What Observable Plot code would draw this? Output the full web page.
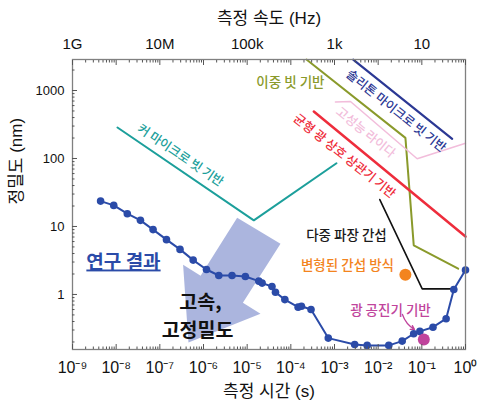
<!DOCTYPE html>
<html>
<head>
<meta charset="utf-8">
<script src="https://cdn.jsdelivr.net/npm/d3@7"></script>
<script src="https://cdn.jsdelivr.net/npm/@observablehq/plot@0.6"></script>
<style>
  html, body { margin: 0; padding: 0; background: #fff; }
  #chart svg { display: block; }
</style>
</head>
<body>
<div id="chart"></div>
<script>
// Measured precision of this work versus measurement time
const resultTime = [4.4e-9, 8.8e-9, 1.8e-8, 3.6e-8, 7.0e-8, 1.42e-7, 2.9e-7, 5.8e-7, 1.17e-6, 2.24e-6,
  4.5e-6, 9.1e-6, 1.85e-5, 2.2e-5, 3.7e-5, 4.45e-5, 7.3e-5, 1.47e-4, 1.75e-4, 2.9e-4,
  7.2e-4, 2.9e-3, 5.6e-3, 1.75e-2, 3.55e-2, 6.5e-2, 9.0e-2, 0.18, 0.36, 0.54, 1.0];
const resultPrecision = [23.6, 20.4, 15.4, 12.3, 9.0, 6.4, 4.6, 3.2, 2.33, 1.90,
  1.90, 1.84, 1.57, 1.47, 1.31, 1.08, 0.84, 0.65, 0.67, 0.60,
  0.228, 0.184, 0.178, 0.178, 0.206, 0.264, 0.286, 0.33, 0.44, 1.18, 2.29];

// Other ranging methods (boundaries)
const kerrTime = [1.07e-8, 1.42e-5, 1.11e-3];
const kerrPrecision = [286, 12.3, 85];
const dualCombTime = [2.28e-4, 0.0421, 0.0653, 0.679];
const dualCombPrecision = [2850, 201, 5.26, 2.39];
const solitonTime = [2.68e-3, 0.495];
const solitonPrecision = [2850, 195];
const lidarTime = [1.05e-3, 2.32e-3, 0.0782, 1.0];
const lidarPrecision = [680, 690, 99, 168];
const bocTime = [3.36e-4, 1.0];
const bocPrecision = [491, 7.1];
const multiWaveTime = [0.0109, 0.102, 0.538];
const multiWavePrecision = [24.9, 1.21, 1.21];
const modifiedInterfTime = [0.042];
const modifiedInterfPrecision = [1.95];
const cavityTime = [0.111];
const cavityPrecision = [0.218];

// Tick values and labels
const bottomTicks = [1e-9, 1e-8, 1e-7, 1e-6, 1e-5, 1e-4, 1e-3, 1e-2, 1e-1, 1];
const topTicks = [1e-9, 1e-7, 1e-5, 1e-3, 1e-1];
const topLabels = ["1G", "10M", "100k", "1k", "10"];
const leftTicks = [1, 10, 100, 1000];
const leftLabels = ["1", "10", "100", "1000"];

// Trend arrow outline (time, precision) pairs
const trendArrowTime = [5.9e-6, 5.8e-5, 7.98e-6, 2.02e-5, 4.53e-7, 3.41e-7, 8.6e-7];
const trendArrowPrecision = [13.4, 5.57, 0.757, 0.52, 0.197, 2.73, 1.88];

const zip = (xs, ys) => xs.map((x, i) => ({x, y: ys[i]}));
const labelFor = (ticks, labels) => d => {
  const i = ticks.findIndex(t => Math.abs(Math.log10(t) - Math.log10(d)) < 1e-6);
  return i < 0 ? "" : labels[i];
};

const minorX = [];
for (let e = -9; e < 0; e++) for (let m = 2; m <= 9; m++) minorX.push(m * 10 ** e);
const minorY = [];
for (let e = -1; e < 4; e++) for (let m = 2; m <= 9; m++) {
  const v = m * 10 ** e;
  if (v > 0.16 && v < 2800) minorY.push(v);
}

const supMap = {"-": "\u207B", "0": "\u2070", "1": "\u00B9", "2": "\u00B2", "3": "\u00B3",
  "4": "\u2074", "5": "\u2075", "6": "\u2076", "7": "\u2077", "8": "\u2078", "9": "\u2079"};
const powerLabel = d => "10" + String(Math.round(Math.log10(d))).split("").map(c => supMap[c]).join("");

// Method labels along the boundary lines
const slantedLabels = [
  {x: 2.97e-7, y: 111, text: "커 마이크로 빗 기반", color: "#1c9f9b", rotate: 34},
  {x: 0.0256, y: 498, text: "솔리톤 마이크로 빗 기반", color: "#2b3894", rotate: 38.5},
  {x: 5.13e-3, y: 241, text: "고성능 라이다", color: "#f2bddb", rotate: 39},
  {x: 1.69e-3, y: 108, text: "균형 광 상호 상관기 기반", color: "#ee2d3c", rotate: 38.5}
];
const flatLabels = [
  {x: 9.8e-5, y: 1312, text: "이중 빗 기반", color: "#8a9a2b"},
  {x: 1.88e-3, y: 7.37, text: "다중 파장 간섭", color: "#1a1a1a"},
  {x: 1.98e-3, y: 2.67, text: "변형된 간섭 방식", color: "#f3841e"},
  {x: 0.0191, y: 0.582, text: "광 공진기 기반", color: "#c0449c"}
];

const font = "'Liberation Sans', Arial, 'Noto Sans CJK KR', sans-serif";
const kfont = "'Noto Sans CJK KR', sans-serif";
const tickColor = "#555";

const chart = Plot.plot({
  width: 481,
  height: 410,
  marginLeft: 72,
  marginRight: 16,
  marginTop: 59,
  marginBottom: 61,
  style: {fontFamily: font, background: "#fff", color: "#111"},
  x: {type: "log", domain: [1e-9, 1], axis: null},
  y: {type: "log", domain: [0.155, 2858], axis: null},
  marks: [
    // trend arrow
    Plot.line(zip(trendArrowTime, trendArrowPrecision), {x: "x", y: "y", curve: "linear-closed", fill: "#a7b1dc", stroke: "none", fillOpacity: 0.95}),
    // comparison methods
    Plot.line(zip(kerrTime, kerrPrecision), {x: "x", y: "y", stroke: "#1c9f9b", strokeWidth: 2, strokeLinejoin: "miter"}),
    Plot.line(zip(dualCombTime, dualCombPrecision), {x: "x", y: "y", stroke: "#8a9a2b", strokeWidth: 2, strokeLinejoin: "miter"}),
    Plot.line(zip(solitonTime, solitonPrecision), {x: "x", y: "y", stroke: "#2b3894", strokeWidth: 2.2}),
    Plot.line(zip(lidarTime, lidarPrecision), {x: "x", y: "y", stroke: "#f2bddb", strokeWidth: 1.5, strokeLinejoin: "miter"}),
    Plot.line(zip(bocTime, bocPrecision), {x: "x", y: "y", stroke: "#ee2d3c", strokeWidth: 2.5}),
    Plot.line(zip(multiWaveTime, multiWavePrecision), {x: "x", y: "y", stroke: "#111", strokeWidth: 1.6, strokeLinejoin: "miter"}),
    // this work
    Plot.line(zip(resultTime, resultPrecision), {x: "x", y: "y", stroke: "#2b4ba8", strokeWidth: 2}),
    Plot.dot(zip(resultTime, resultPrecision), {x: "x", y: "y", r: 3.8, fill: "#2b4ba8", stroke: "none"}),
    // single-point methods
    Plot.dot(zip(modifiedInterfTime, modifiedInterfPrecision), {x: "x", y: "y", r: 6, fill: "#f3841e"}),
    Plot.arrow([{x1: 0.036, y1: 0.508, x2: 0.0678, y2: 0.306}], {x1: "x1", y1: "y1", x2: "x2", y2: "y2", stroke: "#c0449c", strokeWidth: 1.3, headLength: 5, bend: -20}),
    Plot.dot(zip(cavityTime, cavityPrecision), {x: "x", y: "y", r: 6, fill: "#c0449c"}),
    // method labels
    Plot.text(slantedLabels, {x: "x", y: "y", text: "text", fill: "color", rotate: "rotate", fontSize: 12.5, fontFamily: kfont, fontWeight: 500}),
    Plot.text(flatLabels, {x: "x", y: "y", text: "text", fill: "color", fontSize: 13.5, fontFamily: kfont, fontWeight: 500}),
    Plot.text(["연구 결과"], {x: () => 1.47e-8, y: () => 2.96, text: d => d, fill: "#2b4ba8", fontSize: 19, fontWeight: "bold", fontFamily: kfont}),
    Plot.text(["고속,"], {x: () => 8.5e-7, y: () => 0.763, text: d => d, fill: "#111", fontSize: 19.5, fontWeight: "bold", fontFamily: kfont}),
    Plot.text(["고정밀도"], {x: () => 7.3e-7, y: () => 0.296, text: d => d, fill: "#111", fontSize: 19.5, fontWeight: "bold", fontFamily: kfont}),
    // frame
    Plot.frame({stroke: "#808080", strokeWidth: 1.3}),
    // bottom axis
    Plot.axisX(bottomTicks, {anchor: "bottom", tickSize: 0, tickPadding: 12, tickFormat: powerLabel, fontSize: 16, label: null}),
    Plot.axisX(bottomTicks, {anchor: "bottom", tickSize: -5, text: null, label: null, stroke: tickColor}),
    Plot.axisX(minorX, {anchor: "bottom", tickSize: -2.5, text: null, label: null, stroke: tickColor}),
    // top axis (frequency = 1 / time)
    Plot.axisX(topTicks, {anchor: "top", tickSize: 0, tickPadding: 11, tickFormat: labelFor(topTicks, topLabels), fontSize: 15, label: null}),
    Plot.axisX(bottomTicks, {anchor: "top", tickSize: -5, text: null, label: null, stroke: tickColor}),
    Plot.axisX(minorX, {anchor: "top", tickSize: -2.5, text: null, label: null, stroke: tickColor}),
    // left axis
    Plot.axisY(leftTicks, {anchor: "left", tickSize: 0, tickPadding: 8, tickFormat: labelFor(leftTicks, leftLabels), fontSize: 13, label: null}),
    Plot.axisY(leftTicks, {anchor: "left", tickSize: -5, text: null, label: null, stroke: tickColor}),
    Plot.axisY(minorY, {anchor: "left", tickSize: -2.5, text: null, label: null, stroke: tickColor}),
    // axis titles
    Plot.text(["측정 시간 (s)"], {frameAnchor: "bottom", dy: 47, text: d => d, fontSize: 17, fontFamily: font}),
    Plot.text(["측정 속도 (Hz)"], {frameAnchor: "top", dy: -48, text: d => d, fontSize: 17, fontFamily: font}),
    Plot.text(["정밀도 (nm)"], {frameAnchor: "left", dx: -56, rotate: -90, text: d => d, fontSize: 17, fontFamily: font})
  ]
});

document.getElementById("chart").appendChild(chart);

// underline the result heading
chart.querySelectorAll("text").forEach(t => {
  if (t.textContent === "연구 결과") t.style.textDecoration = "underline";
});
</script>
</body>
</html>
